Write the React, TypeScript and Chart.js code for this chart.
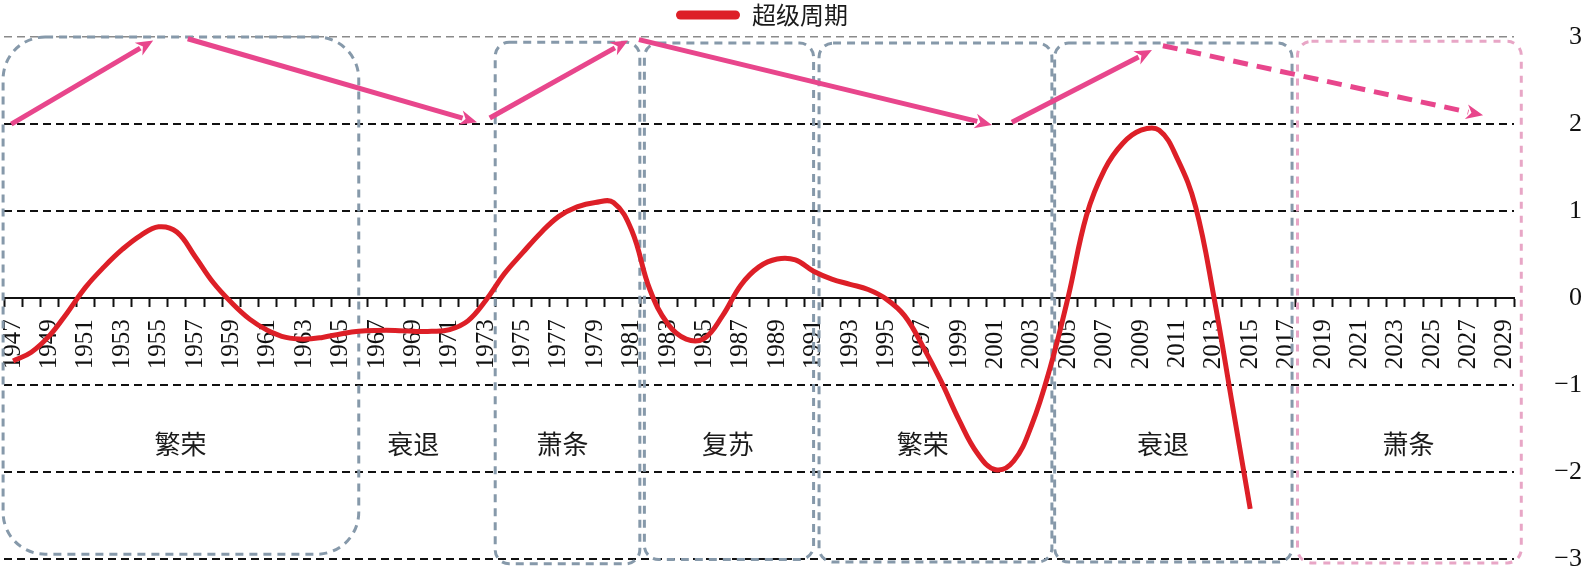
import React, { useEffect, useRef } from 'react';
import { Chart, registerables } from 'chart.js';

Chart.register(...registerables);

// ---------------- data ----------------
const FIRST_YEAR = 1947;
const LAST_YEAR = 2029;
const years: string[] = Array.from({ length: LAST_YEAR - FIRST_YEAR + 1 }, (_, i) => String(FIRST_YEAR + i));

const seriesName = '超级周期';
// 1947 .. 2015
const superCycle: number[] = [
  -0.72, -0.62, -0.43, -0.16, 0.13, 0.36, 0.56, 0.72, 0.82, 0.76, // 1947-1956
  0.48, 0.18, -0.05, -0.24, -0.37, -0.45, -0.47, -0.45, -0.41, -0.38, // 1957-1966
  -0.37, -0.37, -0.38, -0.38, -0.36, -0.26, -0.02, 0.28, 0.52, 0.75, // 1967-1976
  0.94, 1.05, 1.10, 1.10, 0.78, 0.10, -0.30, -0.47, -0.46, -0.20, // 1977-1986
  0.15, 0.36, 0.45, 0.44, 0.31, 0.22, 0.16, 0.10, -0.01, -0.20, // 1987-1996
  -0.55, -0.95, -1.40, -1.78, -1.97, -1.87, -1.45, -0.80, 0.02, 0.95, // 1997-2006
  1.48, 1.78, 1.93, 1.93, 1.60, 1.05, 0.02, -1.20, -2.42, // 2007-2015
];

const yMin = -3;
const yMax = 3;

// phase boxes: [startYear, endYear, topValue, bottomValue]
const boxStart: number[] = [1946.45, 1973.5, 1981.7, 1991.3, 2004.25, 2017.6];
const boxEnd: number[] = [1966.0, 1981.45, 1991.0, 2004.1, 2017.3, 2029.9];
const boxTop: number[] = [3.0, 2.94, 2.93, 2.93, 2.93, 2.95];
const boxBottom: number[] = [-2.94, -3.05, -3.0, -3.03, -3.03, -3.04];
const boxKind: string[] = ['past', 'past', 'past', 'past', 'past', 'future'];

// phase names and their anchor (year, value)
const phaseNames: string[] = ['繁荣', '衰退', '萧条', '复苏', '繁荣', '衰退', '萧条'];
const phaseYear: number[] = [1956.2, 1969.0, 1977.2, 1986.3, 1997.0, 2010.2, 2023.7];
const phaseValue: number[] = [-1.68, -1.68, -1.68, -1.68, -1.68, -1.68, -1.68];

// trend arrows: from (year, value) to (year, value)
const arrowFromYear: number[] = [1946.9, 1956.6, 1973.2, 1981.4, 2001.9, 2010.2];
const arrowFromValue: number[] = [2.0, 2.98, 2.07, 2.97, 2.02, 2.9];
const arrowToYear: number[] = [1954.7, 1972.5, 1980.8, 2000.8, 2009.6, 2027.8];
const arrowToValue: number[] = [2.96, 2.02, 2.96, 1.99, 2.85, 2.1];
const arrowDashed: boolean[] = [false, false, false, false, false, true];

// ---------------- styles ----------------
const RED = '#dd1f27';
const ARROW = '#e8468c';
const BOX_GRAY = '#8699aa';
const BOX_PINK = '#e8a6c6';
const SERIF = "'Liberation Serif', 'Times New Roman', serif";
const CJK = "'Noto Sans CJK SC', 'Noto Sans', sans-serif";
const LEGEND_CENTER = 762;
const Y_AXIS_WIDTH = 68;

function roundRectPath(ctx: CanvasRenderingContext2D, x1: number, y1: number, x2: number, y2: number, r: number) {
  ctx.beginPath();
  ctx.moveTo(x1 + r, y1);
  ctx.lineTo(x2 - r, y1);
  ctx.arcTo(x2, y1, x2, y1 + r, r);
  ctx.lineTo(x2, y2 - r);
  ctx.arcTo(x2, y2, x2 - r, y2, r);
  ctx.lineTo(x1 + r, y2);
  ctx.arcTo(x1, y2, x1, y2 - r, r);
  ctx.lineTo(x1, y1 + r);
  ctx.arcTo(x1, y1, x1 + r, y1, r);
  ctx.closePath();
}

const annotationPlugin = {
  id: 'cycleAnnotations',
  afterLayout(chart: any) {
    const lg = chart.legend;
    if (lg) {
      const dx = LEGEND_CENTER - (lg.left + lg.right) / 2;
      lg.left += dx;
      lg.right += dx;
    }
  },
  beforeDatasetsDraw(chart: any) {
    const { ctx, scales } = chart;
    const xs = scales.x;
    const ys = scales.y;
    const x0 = xs.getPixelForValue(0);
    const step = xs.getPixelForValue(1) - x0;
    const px = (yr: number) => x0 + (yr - FIRST_YEAR) * step;
    const py = (v: number) => ys.getPixelForValue(v);

    ctx.save();
    // boxes
    boxStart.forEach((s, i) => {
      const future = boxKind[i] === 'future';
      const xa = px(s);
      const xb = px(boxEnd[i]);
      const ya = py(boxTop[i]);
      const yb = py(boxBottom[i]);
      const r = i === 0 ? 42 : 14;
      ctx.lineWidth = 3;
      ctx.strokeStyle = future ? BOX_PINK : BOX_GRAY;
      ctx.setLineDash(future ? [7, 7] : [8, 6]);
      roundRectPath(ctx, xa, ya, xb, yb, r);
      ctx.stroke();
    });
    ctx.setLineDash([]);

    // phase labels
    ctx.fillStyle = '#1a1a1a';
    ctx.font = `26px ${CJK}`;
    ctx.textAlign = 'center';
    ctx.textBaseline = 'middle';
    phaseNames.forEach((name, i) => {
      ctx.fillText(name, px(phaseYear[i]), py(phaseValue[i]));
    });

    // arrows
    arrowFromYear.forEach((fy, i) => {
      const xa = px(fy);
      const ya = py(arrowFromValue[i]);
      const xb = px(arrowToYear[i]);
      const yb = py(arrowToValue[i]);
      const ang = Math.atan2(yb - ya, xb - xa);
      const head = 17;
      const half = 7.5;
      const xe = xb - Math.cos(ang) * (head - 2);
      const ye = yb - Math.sin(ang) * (head - 2);
      ctx.strokeStyle = ARROW;
      ctx.fillStyle = ARROW;
      ctx.lineWidth = 5;
      ctx.lineCap = 'butt';
      ctx.setLineDash(arrowDashed[i] ? [15, 9] : []);
      ctx.beginPath();
      ctx.moveTo(xa, ya);
      ctx.lineTo(xe, ye);
      ctx.stroke();
      ctx.setLineDash([]);
      ctx.beginPath();
      ctx.moveTo(xb, yb);
      ctx.lineTo(xb - Math.cos(ang) * head - Math.sin(ang) * half, yb - Math.sin(ang) * head + Math.cos(ang) * half);
      ctx.lineTo(xb - Math.cos(ang) * head * 0.7, yb - Math.sin(ang) * head * 0.7);
      ctx.lineTo(xb - Math.cos(ang) * head + Math.sin(ang) * half, yb - Math.sin(ang) * head - Math.cos(ang) * half);
      ctx.closePath();
      ctx.fill();
    });
    ctx.restore();
  },
};

export default function App() {
  const canvasRef = useRef<HTMLCanvasElement | null>(null);

  useEffect(() => {
    document.body.style.margin = '0';
    const canvas = canvasRef.current;
    if (!canvas) return;

    const chart = new Chart(canvas, {
      type: 'line',
      data: {
        labels: years,
        datasets: [
          {
            label: seriesName,
            data: superCycle,
            borderColor: RED,
            backgroundColor: RED,
            borderWidth: 5,
            pointRadius: 0,
            tension: 0.4,
            fill: false,
          },
        ],
      },
      options: {
        responsive: false,
        animation: false,
        devicePixelRatio: 1,
        events: [],
        layout: { padding: { left: 4, right: 4, top: 0, bottom: 0 } },
        plugins: {
          tooltip: { enabled: false },
          legend: {
            display: true,
            position: 'top',
            maxHeight: 39,
            labels: {
              boxWidth: 64,
              boxHeight: 9,
              useBorderRadius: true,
              borderRadius: 4.5,
              padding: 3,
              color: '#1a1a1a',
              font: { family: CJK, size: 24 },
              generateLabels: (c: any) =>
                Chart.defaults.plugins.legend.labels.generateLabels(c).map((it: any) => ({ ...it, lineWidth: 0 })),
            },
          },
        },
        scales: {
          x: {
            type: 'category',
            position: { y: 0 } as any,
            offset: true,
            afterFit: (s: any) => {
              s.paddingLeft = 0;
              s.paddingRight = 0;
            },
            grid: {
              display: true,
              offset: true,
              drawOnChartArea: false,
              drawTicks: true,
              tickLength: 8,
              tickColor: '#111',
              tickWidth: 2,
            },
            border: { display: true, color: '#111', width: 2 },
            ticks: {
              autoSkip: false,
              minRotation: 90,
              maxRotation: 90,
              padding: 13,
              color: '#111',
              font: { family: SERIF, size: 25 },
              callback: (_v: any, i: number) => (i % 2 === 0 ? years[i] : ''),
            },
          },
          y: {
            type: 'linear',
            position: 'right',
            min: yMin,
            max: yMax,
            afterFit: (s: any) => {
              s.width = Y_AXIS_WIDTH;
            },
            grid: {
              drawTicks: true,
              tickLength: 36,
              tickColor: 'rgba(0,0,0,0)',
              color: (ctx: any) => {
                const v = ctx.tick ? ctx.tick.value : null;
                if (v === 0) return 'rgba(0,0,0,0)';
                if (v === yMax) return '#8a8a8a';
                return '#111';
              },
              lineWidth: (ctx: any) => (ctx.tick && ctx.tick.value === yMax ? 1.5 : 2),
            },
            border: { display: false, dash: [8, 5] },
            ticks: {
              stepSize: 1,
              crossAlign: 'far',
              padding: 2,
              color: '#111',
              font: { family: SERIF, size: 26, lineHeight: 0.35 },
              callback: (v: any) => (Number(v) < 0 ? '\u2212' + Math.abs(Number(v)) : String(v)),
            },
          },
        },
      },
      plugins: [annotationPlugin],
    });

    return () => chart.destroy();
  }, []);

  return (
    <div style={{ position: 'absolute', left: 0, top: 0, width: 1586, height: 566, background: '#fff' }}>
      <canvas ref={canvasRef} width={1586} height={566} style={{ display: 'block' }} />
    </div>
  );
}
